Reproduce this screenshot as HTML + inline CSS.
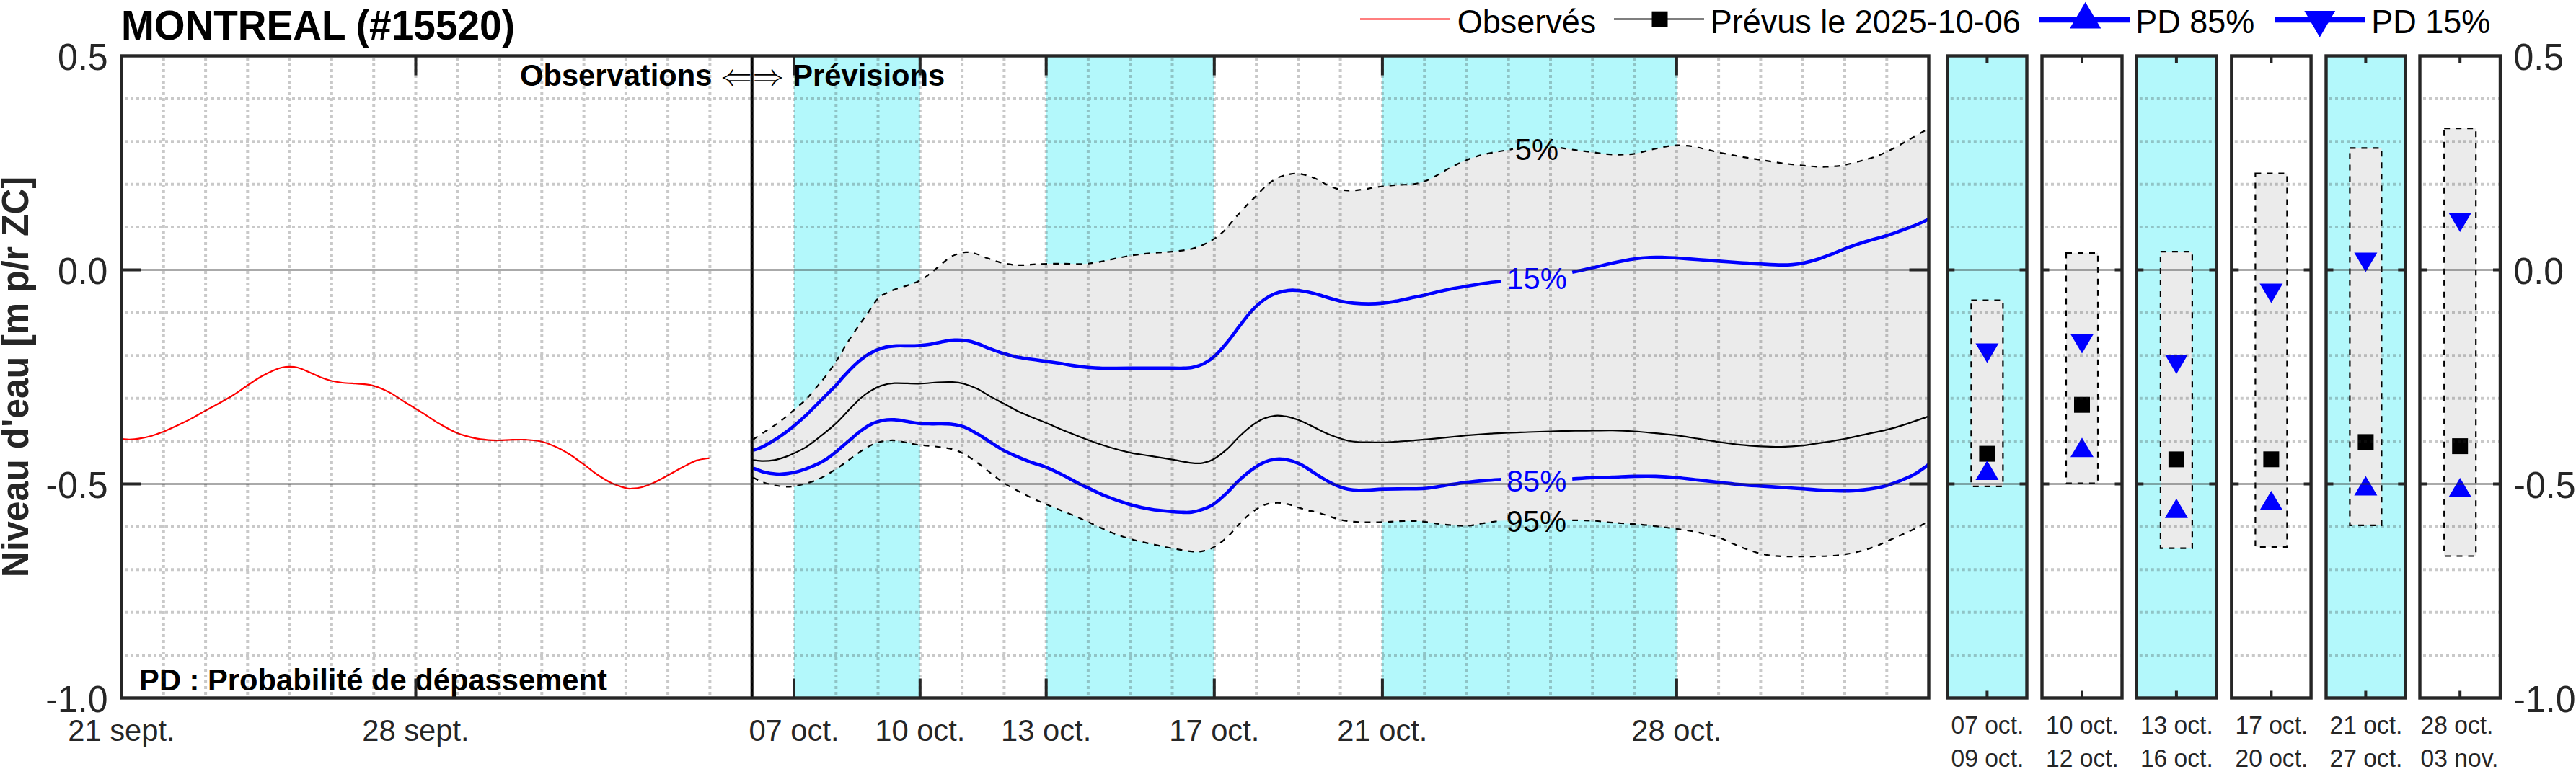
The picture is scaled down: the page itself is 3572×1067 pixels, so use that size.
<!DOCTYPE html><html><head><meta charset="utf-8"><title>MONTREAL (#15520)</title>
<style>html,body{margin:0;padding:0;background:#fff;width:3572px;height:1067px;overflow:hidden}svg{display:block}text{font-family:"Liberation Sans",Arial,Helvetica,sans-serif}.m{font-family:"Latin Modern Math","DejaVu Serif",serif}</style></head><body>
<svg width="3572" height="1067" viewBox="0 0 3572 1067">
<rect width="3572" height="1067" fill="#fff"/>
<rect x="1101" y="77.5" width="174.8" height="891" fill="#b3f8fb"/>
<rect x="1450.7" y="77.5" width="233.1" height="891" fill="#b3f8fb"/>
<rect x="1916.9" y="77.5" width="408" height="891" fill="#b3f8fb"/>
<path d="M1044,610 C1047.7,607.6 1059.7,599.6 1066,595.4 C1072.3,591.2 1075.9,589.3 1081.6,585 C1087.3,580.7 1094.2,574.6 1100.3,569.4 C1106.4,564.2 1112.5,559.4 1118,553.8 C1123.5,548.2 1129,541 1133.6,535.6 C1138.1,530.2 1141,527 1145.3,521.3 C1149.6,515.6 1154.6,508.9 1159.6,501.2 C1164.6,493.5 1170,483.4 1175.2,475.2 C1180.4,467 1186,458.7 1190.8,451.8 C1195.6,444.9 1199.4,439.9 1203.8,433.6 C1208.2,427.3 1213.5,418.4 1217.4,414.1 C1221.3,409.8 1223.5,409.6 1227.3,407.6 C1231.1,405.6 1235.1,403.8 1240.3,401.9 C1245.5,399.9 1252.7,398 1258.5,395.9 C1264.3,393.8 1270.6,391.8 1275.4,389.4 C1280.2,387 1283,384.6 1287.1,381.6 C1291.2,378.6 1295.3,375.1 1300.1,371.2 C1304.9,367.3 1311.4,361.2 1315.7,358.2 C1320,355.2 1322.2,354.4 1326.1,353 C1330,351.6 1334.8,350.1 1339.1,349.9 C1343.4,349.7 1347.3,350.4 1352.1,351.7 C1356.9,353 1362.1,355.7 1367.7,357.7 C1373.3,359.7 1379.8,362.3 1385.9,363.9 C1392,365.5 1398.5,366.6 1404.1,367.3 C1409.7,368 1413.7,367.9 1419.7,367.8 C1425.7,367.7 1431.8,366.8 1440,366.5 C1448.2,366.2 1459.8,365.8 1469,365.8 C1478.2,365.8 1488.5,366.3 1495,366.3 C1501.5,366.3 1502.8,366.3 1508,365.8 C1513.2,365.3 1519.7,364.4 1526.2,363.2 C1532.7,362 1540.2,360.1 1547,358.7 C1553.8,357.3 1560.8,355.9 1567.3,354.8 C1573.8,353.7 1579.4,352.9 1586,352.2 C1592.6,351.5 1600.3,350.9 1606.9,350.4 C1613.5,349.9 1618.2,349.9 1625.6,349.1 C1633,348.3 1643.8,347.4 1651.1,345.7 C1658.4,344 1663.9,341.6 1669.3,339.2 C1674.7,336.8 1678.8,334.6 1683.6,331.4 C1688.4,328.1 1692.9,324.7 1697.9,319.7 C1702.9,314.7 1708.3,307.4 1713.5,301.5 C1718.7,295.6 1724.3,289.6 1729.1,284.6 C1733.9,279.6 1737.3,276.4 1742.1,271.6 C1746.9,266.8 1752.5,260.2 1757.7,256 C1762.9,251.8 1768.1,248.5 1773.3,246.1 C1778.5,243.7 1784.4,242.6 1788.9,241.7 C1793.5,240.8 1796.3,240.5 1800.6,240.9 C1804.9,241.3 1810,242.7 1814.9,244.3 C1819.8,245.9 1826.1,248.5 1830,250.3 C1833.9,252.2 1834.2,253.5 1838.2,255.4 C1842.2,257.3 1848.6,260.4 1853.8,261.9 C1859,263.4 1863.8,264.3 1869.4,264.5 C1875,264.7 1882,263.8 1887.6,263.2 C1893.2,262.6 1898.2,261.4 1903.2,260.6 C1908.2,259.8 1911.9,259.1 1917.5,258.5 C1923.1,257.9 1929.8,257.2 1937,256.7 C1944.2,256.2 1954,256.3 1960.4,255.4 C1966.8,254.5 1970.3,253.4 1975.5,251.5 C1980.7,249.6 1986.4,246.5 1991.7,243.7 C1997,240.9 2002.1,237.4 2007.3,234.6 C2012.5,231.8 2018.1,229.1 2022.9,226.8 C2027.7,224.6 2030.7,223.1 2035.9,221.1 C2041.1,219.1 2047.6,216.8 2054.1,215.1 C2060.6,213.4 2068.7,211.9 2074.9,210.7 C2081.1,209.5 2087.5,208.8 2091.3,208.1 C2095.2,207.4 2091.4,207 2098,206.6 C2104.6,206.2 2120,205.7 2131,205.5 C2142,205.3 2155.2,204.8 2164,205.2 C2172.8,205.6 2176.7,207.1 2184.1,208.1 C2191.5,209.1 2201,210.2 2208.3,211.2 C2215.7,212.1 2221.8,213.2 2228.2,213.8 C2234.5,214.4 2240,214.7 2246.4,214.6 C2252.8,214.5 2259.5,214.4 2266.4,213.3 C2273.3,212.2 2280.9,209.7 2288,208.1 C2295.1,206.5 2302.6,204.8 2308.8,203.7 C2315,202.6 2319.1,201.7 2325.2,201.6 C2331.3,201.5 2338.4,201.9 2345.2,202.9 C2352,203.9 2359.6,205.9 2366,207.3 C2372.4,208.7 2375.9,209.8 2383.7,211.5 C2391.5,213.2 2403.3,215.5 2412.9,217.2 C2422.5,218.9 2432,220.4 2441.5,221.9 C2451,223.4 2460.3,225 2470.1,226.3 C2479.9,227.6 2492.2,228.9 2500.3,229.7 C2508.5,230.5 2513.7,231 2519,231.3 C2524.3,231.6 2527.7,231.6 2532,231.5 C2536.3,231.4 2540.7,231.1 2545,230.7 C2549.3,230.3 2552.4,230.1 2558,228.9 C2563.6,227.7 2572.3,225.4 2578.8,223.7 C2585.3,222 2590.8,220.7 2597,218.5 C2603.2,216.3 2609.5,213.7 2616,210.7 C2622.5,207.7 2630.1,203.6 2636,200.3 C2641.9,197.1 2646,194.4 2651.7,191.2 C2657.3,187.9 2666.1,183 2669.9,180.8 C2673.7,178.6 2673.7,178.6 2674.5,178.2 L2674.5,723 C2673.7,723.4 2672.9,723.9 2669.8,725.6 C2666.7,727.3 2661.2,730.7 2655.8,733.4 C2650.4,736.1 2643.7,738.9 2637.1,741.9 C2630.5,744.9 2622.7,748.4 2616.2,751.2 C2609.7,754.1 2605.2,756.5 2598.3,759 C2591.4,761.5 2581.7,764.3 2575,766 C2568.3,767.7 2564.1,768.2 2558.4,769.1 C2552.7,770 2547.2,770.6 2540.9,771.1 C2534.6,771.6 2527.4,771.7 2520.7,771.9 C2514,772.1 2507,772.2 2500.5,772.2 C2494,772.2 2487.6,772.3 2481.9,772.2 C2476.2,772.1 2471.5,772 2466.3,771.7 C2461.1,771.4 2456,771.1 2450.8,770.2 C2445.6,769.3 2440.5,768 2435.3,766.5 C2430.1,765 2425.5,763.4 2419.8,761.3 C2414.1,759.1 2407.2,756.2 2401.1,753.6 C2395,751 2389,747.8 2383.3,745.8 C2377.6,743.8 2372.6,743 2367,741.6 C2361.4,740.2 2356.9,739 2349.9,737.7 C2342.9,736.4 2332.8,735 2325,733.9 C2317.2,732.8 2310.8,732 2303.3,731.1 C2295.8,730.2 2286.2,728.9 2280,728.3 C2273.8,727.6 2273.7,727.7 2266.4,727.2 C2259.1,726.7 2245.7,725.9 2236,725.1 C2226.3,724.3 2217.6,723 2208.3,722.5 C2199,722 2193.1,722 2180.2,721.8 C2167.3,721.6 2147.5,721.4 2131,721.5 C2114.5,721.6 2094.2,721.6 2081.4,722.4 C2068.6,723.2 2062.1,725.2 2054.1,726.4 C2046.1,727.6 2042,729.4 2033.3,729.6 C2024.6,729.8 2011.7,728.7 2002.1,727.7 C1992.5,726.8 1982.9,724.7 1975.5,723.9 C1968.1,723.1 1964.2,722.9 1957.8,722.8 C1951.4,722.7 1943.7,723 1937,723.3 C1930.3,723.6 1924,724.2 1917.5,724.4 C1911,724.6 1904.7,724.7 1898,724.6 C1891.3,724.5 1883.8,724.5 1877.2,723.9 C1870.6,723.3 1865,722.7 1858.5,721.2 C1852,719.7 1844.6,716.7 1838.2,714.7 C1831.8,712.7 1823.9,710.3 1820,709.3 C1816.1,708.3 1818.1,709.5 1814.9,708.7 C1811.7,707.9 1805.8,705.9 1800.6,704.3 C1795.4,702.7 1789.1,700.2 1783.7,699.1 C1778.3,698 1773.3,697.5 1768.1,697.8 C1762.9,698.1 1757.9,698.6 1752.5,700.9 C1747.1,703.1 1741.2,707 1735.6,711.3 C1730,715.6 1724.3,721.2 1718.7,726.9 C1713.1,732.5 1707.7,739.9 1701.8,745.2 C1695.9,750.5 1689.2,755.6 1683.6,758.9 C1678,762.1 1673.2,763.7 1668,764.7 C1662.8,765.8 1659.5,765.9 1652.4,765.2 C1645.3,764.6 1634.9,762.5 1625.6,760.8 C1616.3,759.1 1606.1,757 1596.4,754.8 C1586.7,752.6 1576.8,750.6 1567.3,747.8 C1557.8,745 1549.1,742.1 1539.2,738.1 C1529.3,734.1 1517.5,728 1508,723.8 C1498.5,719.5 1491.6,716.6 1482,712.6 C1472.4,708.6 1459,703.3 1450.3,699.6 C1441.6,695.9 1436.8,693.8 1430,690.5 C1423.2,687.2 1415.6,683.4 1409.3,680 C1403,676.6 1398,674 1392.4,670.3 C1386.8,666.6 1381.3,662.3 1375.5,657.8 C1369.7,653.3 1363.4,647.9 1357.3,643.5 C1351.2,639.1 1344.7,634.5 1339.1,631.3 C1333.5,628 1329.1,625.8 1323.5,624 C1317.9,622.2 1311.8,621.6 1305.3,620.6 C1298.8,619.6 1291,619 1284.5,618.3 C1278,617.6 1272.4,617.2 1266.3,616.2 C1260.2,615.2 1253.3,613.2 1248.1,612.3 C1242.9,611.4 1240.3,610.7 1235.1,611 C1229.9,611.3 1222.6,612.4 1216.9,614.1 C1211.2,615.8 1206.4,618.5 1201.2,621.4 C1196,624.3 1190.8,628.1 1185.6,631.8 C1180.4,635.5 1175.2,639.8 1170,643.5 C1164.8,647.2 1160,650.4 1154.4,653.9 C1148.8,657.4 1142.3,661.5 1136.2,664.3 C1130.1,667.1 1124,669.1 1118,670.8 C1112,672.5 1105.5,674 1100.3,674.7 C1095.1,675.5 1092.1,675.7 1086.8,675.3 C1081.5,674.9 1073.8,673.3 1068.6,672.1 C1063.4,670.9 1059.7,669.8 1055.6,668.2 C1051.5,666.6 1045.9,663.5 1044,662.5 Z" fill="#ebebeb"/>
<path d="M170.5,609.2 C172,609.3 176,609.9 179.6,609.8 C183.2,609.7 187.2,609.6 192.3,608.7 C197.5,607.9 204.8,606.3 210.5,604.7 C216.2,603.1 220.7,601.2 226.5,598.9 C232.3,596.6 239,593.5 245.1,590.7 C251.2,587.9 256.8,585.3 263.3,581.9 C269.8,578.5 277.5,573.8 284.2,570.1 C290.9,566.4 296.9,563.3 303.4,559.7 C309.9,556.1 316.9,552.3 323.4,548.3 C329.8,544.3 335.7,539.8 342.1,535.5 C348.5,531.2 355.3,526.4 361.6,522.8 C367.9,519.2 375,515.8 379.8,513.7 C384.6,511.6 387.1,510.8 390.7,510 C394.3,509.2 397.6,508.8 401.3,508.8 C405,508.8 408,508.7 412.6,510 C417.2,511.3 423.5,514.1 429,516.4 C434.5,518.7 440.4,521.7 445.4,523.7 C450.4,525.7 454.1,527 459,528.2 C463.9,529.4 468.9,530.3 474.5,531 C480.1,531.7 487.6,531.9 492.7,532.2 C497.8,532.6 501.3,532.6 505.4,533.1 C509.5,533.6 513.3,534.1 517.3,535.1 C521.2,536.1 524.7,537.3 529.1,539.2 C533.5,541.1 538.2,543.2 543.7,546.4 C549.2,549.6 556.5,554.9 561.9,558.3 C567.3,561.7 571.6,564.1 576.2,566.9 C580.8,569.7 584,571.6 589.5,575.1 C595,578.6 601.5,583.5 609,587.8 C616.5,592.1 626.3,597.8 634.4,601.1 C642.5,604.5 650.6,606.3 657.8,607.9 C664.9,609.5 671.5,610.1 677.3,610.6 C683.1,611.1 687,611.1 692.5,611 C698,610.9 704.2,610.3 710.5,610.2 C716.8,610.1 723.2,609.8 730,610.2 C736.8,610.6 744.2,611 751.4,612.8 C758.5,614.6 766.4,618 772.9,621 C779.4,624 784.3,626.8 790.4,630.7 C796.5,634.6 803.4,639.9 809.6,644.4 C815.8,648.9 821.3,653.8 827.5,658 C833.7,662.2 840.3,666.5 847,669.7 C853.7,672.9 862.6,675.7 867.5,677.1 C872.4,678.5 872.6,678.1 876.3,677.9 C880,677.7 885,677.3 889.9,676 C894.8,674.7 899.6,673 905.5,670.3 C911.4,667.6 918.6,663.7 925.4,660 C932.2,656.3 939.7,651.8 946.5,648.3 C953.3,644.8 959.8,641 966,638.9 C972.2,636.8 980.7,636.1 983.6,635.6" fill="none" stroke="#ff0000" stroke-width="2.2" stroke-linejoin="round"/>
<path d="M1044,610 C1047.7,607.6 1059.7,599.6 1066,595.4 C1072.3,591.2 1075.9,589.3 1081.6,585 C1087.3,580.7 1094.2,574.6 1100.3,569.4 C1106.4,564.2 1112.5,559.4 1118,553.8 C1123.5,548.2 1129,541 1133.6,535.6 C1138.1,530.2 1141,527 1145.3,521.3 C1149.6,515.6 1154.6,508.9 1159.6,501.2 C1164.6,493.5 1170,483.4 1175.2,475.2 C1180.4,467 1186,458.7 1190.8,451.8 C1195.6,444.9 1199.4,439.9 1203.8,433.6 C1208.2,427.3 1213.5,418.4 1217.4,414.1 C1221.3,409.8 1223.5,409.6 1227.3,407.6 C1231.1,405.6 1235.1,403.8 1240.3,401.9 C1245.5,399.9 1252.7,398 1258.5,395.9 C1264.3,393.8 1270.6,391.8 1275.4,389.4 C1280.2,387 1283,384.6 1287.1,381.6 C1291.2,378.6 1295.3,375.1 1300.1,371.2 C1304.9,367.3 1311.4,361.2 1315.7,358.2 C1320,355.2 1322.2,354.4 1326.1,353 C1330,351.6 1334.8,350.1 1339.1,349.9 C1343.4,349.7 1347.3,350.4 1352.1,351.7 C1356.9,353 1362.1,355.7 1367.7,357.7 C1373.3,359.7 1379.8,362.3 1385.9,363.9 C1392,365.5 1398.5,366.6 1404.1,367.3 C1409.7,368 1413.7,367.9 1419.7,367.8 C1425.7,367.7 1431.8,366.8 1440,366.5 C1448.2,366.2 1459.8,365.8 1469,365.8 C1478.2,365.8 1488.5,366.3 1495,366.3 C1501.5,366.3 1502.8,366.3 1508,365.8 C1513.2,365.3 1519.7,364.4 1526.2,363.2 C1532.7,362 1540.2,360.1 1547,358.7 C1553.8,357.3 1560.8,355.9 1567.3,354.8 C1573.8,353.7 1579.4,352.9 1586,352.2 C1592.6,351.5 1600.3,350.9 1606.9,350.4 C1613.5,349.9 1618.2,349.9 1625.6,349.1 C1633,348.3 1643.8,347.4 1651.1,345.7 C1658.4,344 1663.9,341.6 1669.3,339.2 C1674.7,336.8 1678.8,334.6 1683.6,331.4 C1688.4,328.1 1692.9,324.7 1697.9,319.7 C1702.9,314.7 1708.3,307.4 1713.5,301.5 C1718.7,295.6 1724.3,289.6 1729.1,284.6 C1733.9,279.6 1737.3,276.4 1742.1,271.6 C1746.9,266.8 1752.5,260.2 1757.7,256 C1762.9,251.8 1768.1,248.5 1773.3,246.1 C1778.5,243.7 1784.4,242.6 1788.9,241.7 C1793.5,240.8 1796.3,240.5 1800.6,240.9 C1804.9,241.3 1810,242.7 1814.9,244.3 C1819.8,245.9 1826.1,248.5 1830,250.3 C1833.9,252.2 1834.2,253.5 1838.2,255.4 C1842.2,257.3 1848.6,260.4 1853.8,261.9 C1859,263.4 1863.8,264.3 1869.4,264.5 C1875,264.7 1882,263.8 1887.6,263.2 C1893.2,262.6 1898.2,261.4 1903.2,260.6 C1908.2,259.8 1911.9,259.1 1917.5,258.5 C1923.1,257.9 1929.8,257.2 1937,256.7 C1944.2,256.2 1954,256.3 1960.4,255.4 C1966.8,254.5 1970.3,253.4 1975.5,251.5 C1980.7,249.6 1986.4,246.5 1991.7,243.7 C1997,240.9 2002.1,237.4 2007.3,234.6 C2012.5,231.8 2018.1,229.1 2022.9,226.8 C2027.7,224.6 2030.7,223.1 2035.9,221.1 C2041.1,219.1 2047.6,216.8 2054.1,215.1 C2060.6,213.4 2068.7,211.9 2074.9,210.7 C2081.1,209.5 2087.5,208.8 2091.3,208.1 C2095.2,207.4 2096.9,206.8 2098,206.6" fill="none" stroke="#000" stroke-width="2.2" stroke-dasharray="8 8"/>
<path d="M2164,205.2 C2167.3,205.7 2176.7,207.1 2184.1,208.1 C2191.5,209.1 2201,210.2 2208.3,211.2 C2215.7,212.1 2221.8,213.2 2228.2,213.8 C2234.5,214.4 2240,214.7 2246.4,214.6 C2252.8,214.5 2259.5,214.4 2266.4,213.3 C2273.3,212.2 2280.9,209.7 2288,208.1 C2295.1,206.5 2302.6,204.8 2308.8,203.7 C2315,202.6 2319.1,201.7 2325.2,201.6 C2331.3,201.5 2338.4,201.9 2345.2,202.9 C2352,203.9 2359.6,205.9 2366,207.3 C2372.4,208.7 2375.9,209.8 2383.7,211.5 C2391.5,213.2 2403.3,215.5 2412.9,217.2 C2422.5,218.9 2432,220.4 2441.5,221.9 C2451,223.4 2460.3,225 2470.1,226.3 C2479.9,227.6 2492.2,228.9 2500.3,229.7 C2508.5,230.5 2513.7,231 2519,231.3 C2524.3,231.6 2527.7,231.6 2532,231.5 C2536.3,231.4 2540.7,231.1 2545,230.7 C2549.3,230.3 2552.4,230.1 2558,228.9 C2563.6,227.7 2572.3,225.4 2578.8,223.7 C2585.3,222 2590.8,220.7 2597,218.5 C2603.2,216.3 2609.5,213.7 2616,210.7 C2622.5,207.7 2630.1,203.6 2636,200.3 C2641.9,197.1 2646,194.4 2651.7,191.2 C2657.3,187.9 2666.1,183 2669.9,180.8 C2673.7,178.6 2673.7,178.6 2674.5,178.2" fill="none" stroke="#000" stroke-width="2.2" stroke-dasharray="8 8"/>
<path d="M1044,662.5 C1045.9,663.5 1051.5,666.6 1055.6,668.2 C1059.7,669.8 1063.4,670.9 1068.6,672.1 C1073.8,673.3 1081.5,674.9 1086.8,675.3 C1092.1,675.7 1095.1,675.5 1100.3,674.7 C1105.5,674 1112,672.5 1118,670.8 C1124,669.1 1130.1,667.1 1136.2,664.3 C1142.3,661.5 1148.8,657.4 1154.4,653.9 C1160,650.4 1164.8,647.2 1170,643.5 C1175.2,639.8 1180.4,635.5 1185.6,631.8 C1190.8,628.1 1196,624.3 1201.2,621.4 C1206.4,618.5 1211.2,615.8 1216.9,614.1 C1222.6,612.4 1229.9,611.3 1235.1,611 C1240.3,610.7 1242.9,611.4 1248.1,612.3 C1253.3,613.2 1260.2,615.2 1266.3,616.2 C1272.4,617.2 1278,617.6 1284.5,618.3 C1291,619 1298.8,619.6 1305.3,620.6 C1311.8,621.6 1317.9,622.2 1323.5,624 C1329.1,625.8 1333.5,628 1339.1,631.3 C1344.7,634.5 1351.2,639.1 1357.3,643.5 C1363.4,647.9 1369.7,653.3 1375.5,657.8 C1381.3,662.3 1386.8,666.6 1392.4,670.3 C1398,674 1403,676.6 1409.3,680 C1415.6,683.4 1423.2,687.2 1430,690.5 C1436.8,693.8 1441.6,695.9 1450.3,699.6 C1459,703.3 1472.4,708.6 1482,712.6 C1491.6,716.6 1498.5,719.5 1508,723.8 C1517.5,728 1529.3,734.1 1539.2,738.1 C1549.1,742.1 1557.8,745 1567.3,747.8 C1576.8,750.6 1586.7,752.6 1596.4,754.8 C1606.1,757 1616.3,759.1 1625.6,760.8 C1634.9,762.5 1645.3,764.6 1652.4,765.2 C1659.5,765.9 1662.8,765.8 1668,764.7 C1673.2,763.7 1678,762.1 1683.6,758.9 C1689.2,755.6 1695.9,750.5 1701.8,745.2 C1707.7,739.9 1713.1,732.5 1718.7,726.9 C1724.3,721.2 1730,715.6 1735.6,711.3 C1741.2,707 1747.1,703.1 1752.5,700.9 C1757.9,698.6 1762.9,698.1 1768.1,697.8 C1773.3,697.5 1778.3,698 1783.7,699.1 C1789.1,700.2 1795.4,702.7 1800.6,704.3 C1805.8,705.9 1811.7,707.9 1814.9,708.7 C1818.1,709.5 1816.1,708.3 1820,709.3 C1823.9,710.3 1831.8,712.7 1838.2,714.7 C1844.6,716.7 1852,719.7 1858.5,721.2 C1865,722.7 1870.6,723.3 1877.2,723.9 C1883.8,724.5 1891.3,724.5 1898,724.6 C1904.7,724.7 1911,724.6 1917.5,724.4 C1924,724.2 1930.3,723.6 1937,723.3 C1943.7,723 1951.4,722.7 1957.8,722.8 C1964.2,722.9 1968.1,723.1 1975.5,723.9 C1982.9,724.7 1992.5,726.8 2002.1,727.7 C2011.7,728.7 2024.6,729.8 2033.3,729.6 C2042,729.4 2046.1,727.6 2054.1,726.4 C2062.1,725.2 2076.8,723.1 2081.4,722.4" fill="none" stroke="#000" stroke-width="2.2" stroke-dasharray="8 8"/>
<path d="M2180.2,721.8 C2184.9,721.9 2199,722 2208.3,722.5 C2217.6,723 2226.3,724.3 2236,725.1 C2245.7,725.9 2259.1,726.7 2266.4,727.2 C2273.7,727.7 2273.8,727.6 2280,728.3 C2286.2,728.9 2295.8,730.2 2303.3,731.1 C2310.8,732 2317.2,732.8 2325,733.9 C2332.8,735 2342.9,736.4 2349.9,737.7 C2356.9,739 2361.4,740.2 2367,741.6 C2372.6,743 2377.6,743.8 2383.3,745.8 C2389,747.8 2395,751 2401.1,753.6 C2407.2,756.2 2414.1,759.1 2419.8,761.3 C2425.5,763.4 2430.1,765 2435.3,766.5 C2440.5,768 2445.6,769.3 2450.8,770.2 C2456,771.1 2461.1,771.4 2466.3,771.7 C2471.5,772 2476.2,772.1 2481.9,772.2 C2487.6,772.3 2494,772.2 2500.5,772.2 C2507,772.2 2514,772.1 2520.7,771.9 C2527.4,771.7 2534.6,771.6 2540.9,771.1 C2547.2,770.6 2552.7,770 2558.4,769.1 C2564.1,768.2 2568.3,767.7 2575,766 C2581.7,764.3 2591.4,761.5 2598.3,759 C2605.2,756.5 2609.7,754.1 2616.2,751.2 C2622.7,748.4 2630.5,744.9 2637.1,741.9 C2643.7,738.9 2650.4,736.1 2655.8,733.4 C2661.2,730.7 2666.7,727.3 2669.8,725.6 C2672.9,723.9 2673.7,723.4 2674.5,723" fill="none" stroke="#000" stroke-width="2.2" stroke-dasharray="8 8"/>
<path d="M1044,638.3 C1046.4,638.5 1053.2,639.6 1058.2,639.6 C1063.2,639.6 1068.6,639.2 1073.8,638.3 C1079,637.3 1085,635.4 1089.4,633.9 C1093.8,632.4 1095.5,631.5 1100.3,629.2 C1105.1,626.9 1111.6,624.2 1118,620.1 C1124.4,616 1131.9,610 1138.8,604.5 C1145.7,599 1153.1,593.2 1159.6,587.1 C1166.1,581 1172.2,573.9 1177.8,568.1 C1183.4,562.3 1188.6,556.7 1193.4,552.5 C1198.2,548.3 1201.6,545.8 1206.4,542.9 C1211.2,540 1216.4,537 1222.1,535.1 C1227.8,533.2 1231.6,532.2 1240.3,531.7 C1249,531.2 1264.1,532.5 1274.1,532.3 C1284.1,532.1 1292.3,530.9 1300.1,530.5 C1307.9,530.1 1314.8,529.9 1320.9,530.2 C1327,530.5 1330.9,531 1336.5,532.5 C1342.1,534 1348.6,536.4 1354.7,539.3 C1360.8,542.2 1366.6,546.4 1372.9,549.9 C1379.2,553.4 1385.9,556.8 1392.4,560.3 C1398.9,563.8 1405.6,567.7 1411.9,570.7 C1418.2,573.7 1423.6,575.8 1430,578.5 C1436.4,581.2 1441.6,583.2 1450.3,586.8 C1459,590.4 1472.4,596.2 1482,600.1 C1491.6,604 1498.5,606.8 1508,610.3 C1517.5,613.8 1529.3,617.8 1539.2,620.8 C1549.1,623.8 1557.8,626.1 1567.3,628.1 C1576.8,630.1 1586.7,631.2 1596.4,632.8 C1606.1,634.4 1616.3,636.1 1625.6,637.7 C1634.9,639.3 1645.3,641.6 1652.4,642.4 C1659.5,643.2 1662.8,643.3 1668,642.4 C1673.2,641.5 1678,640 1683.6,636.7 C1689.2,633.5 1695.9,628.1 1701.8,622.9 C1707.7,617.7 1713.1,610.8 1718.7,605.5 C1724.3,600.2 1730,595 1735.6,590.9 C1741.2,586.8 1747.1,583.1 1752.5,580.8 C1757.9,578.4 1762.9,577.3 1768.1,576.8 C1773.3,576.3 1778.3,576.9 1783.7,577.9 C1789.1,578.9 1795.2,580.9 1800.4,582.8 C1805.6,584.7 1809.2,586.5 1814.6,589.1 C1820,591.7 1827.3,595.6 1832.8,598.2 C1838.3,600.8 1843.2,602.9 1847.4,604.6 C1851.7,606.3 1854.7,607.1 1858.3,608.2 C1861.9,609.4 1865,610.6 1869.2,611.5 C1873.5,612.4 1878.7,612.9 1883.8,613.3 C1888.9,613.7 1894.4,613.6 1900,613.7 C1905.6,613.8 1909.2,614.1 1917.5,613.8 C1925.8,613.5 1940.3,612.6 1950,612 C1959.7,611.4 1966.8,610.7 1975.5,609.9 C1984.2,609.1 1992.5,608.2 2002.1,607.3 C2011.7,606.3 2022.5,605.2 2033.3,604.2 C2044.1,603.2 2057.4,602.2 2067.1,601.6 C2076.8,601 2082.6,600.6 2091.3,600.3 C2100,599.9 2109.3,599.8 2119.1,599.5 C2128.9,599.2 2139.5,598.8 2150.3,598.5 C2161.1,598.2 2174.2,597.9 2184.1,597.7 C2194,597.5 2201.3,597.6 2210,597.5 C2218.7,597.4 2226.6,597 2236,597.2 C2245.4,597.4 2256.4,597.9 2266.4,598.5 C2276.4,599.1 2286,600.1 2295.8,601.1 C2305.6,602.1 2315.2,602.9 2325.2,604.2 C2335.2,605.5 2345.8,607.4 2355.6,608.9 C2365.3,610.4 2374.1,611.9 2383.7,613.3 C2393.2,614.7 2403.3,616.2 2412.9,617.2 C2422.5,618.2 2432,618.8 2441.5,619.3 C2451,619.8 2460.3,620.3 2470.1,620.1 C2479.9,619.9 2490.3,619.2 2500.4,618.1 C2510.5,617 2520.8,615.1 2530.5,613.6 C2540.2,612.1 2548.5,610.8 2558.3,608.9 C2568.1,607 2579.6,604.2 2589.2,602.1 C2598.8,600 2607.3,598.6 2616,596.4 C2624.7,594.2 2631.4,592.2 2641.2,589.1 C2650.9,586 2668.9,579.5 2674.5,577.6" fill="none" stroke="#000" stroke-width="2.2" stroke-linejoin="round"/>
<path d="M1044,624.9 C1045.9,624.2 1051.1,623 1055.6,620.9 C1060.1,618.8 1066,615.5 1071.2,612.3 C1076.4,609.1 1082,605.4 1086.8,601.9 C1091.6,598.4 1095.1,595.8 1100.3,591.5 C1105.5,587.2 1112.5,581.1 1118,575.9 C1123.5,570.7 1128.4,565.5 1133.6,560.3 C1138.8,555.1 1144.9,549 1149.2,544.7 C1153.5,540.4 1156.1,538.1 1159.6,534.3 C1163.1,530.5 1165.2,527.2 1170,522.1 C1174.8,517 1182.1,509.1 1188.2,503.8 C1194.3,498.5 1200.3,493.9 1206.4,490.3 C1212.5,486.8 1218.6,484.2 1224.7,482.5 C1230.8,480.8 1236.8,480.3 1242.9,479.9 C1249,479.5 1255.7,480 1261.1,479.9 C1266.5,479.8 1270.6,479.8 1275.4,479.4 C1280.2,479 1284.3,478.7 1289.7,477.8 C1295.1,476.9 1302.3,474.9 1307.9,473.9 C1313.5,472.9 1318.3,472.1 1323.5,471.9 C1328.7,471.7 1333.9,471.8 1339.1,472.6 C1344.3,473.4 1349.1,474.6 1354.7,476.5 C1360.3,478.4 1366.8,481.5 1372.9,483.8 C1379,486.1 1385,488.4 1391.1,490.3 C1397.2,492.2 1402.8,493.9 1409.3,495.3 C1415.8,496.7 1423.2,497.5 1430,498.5 C1436.8,499.5 1443.8,500.5 1450.3,501.4 C1456.8,502.3 1462.8,503.1 1469,504 C1475.2,504.9 1480.7,506.2 1487.2,507.1 C1493.7,508.1 1501.1,509.1 1508,509.7 C1514.9,510.3 1518.9,510.8 1528.8,511 C1538.7,511.2 1551.2,510.8 1567.3,510.8 C1583.4,510.8 1613.8,510.8 1625.6,510.8 C1637.4,510.8 1633.4,511.2 1638.1,511 C1642.8,510.8 1648.5,510.8 1653.7,509.7 C1658.9,508.6 1664.1,507.2 1669.3,504.5 C1674.5,501.8 1679.3,498.8 1684.9,493.6 C1690.5,488.4 1697.5,480.2 1703.1,473.3 C1708.7,466.4 1713.3,459.5 1718.7,452.5 C1724.1,445.5 1730,437.3 1735.6,431.2 C1741.2,425.1 1747.1,420 1752.5,416 C1757.9,412 1762.5,409.6 1768.1,407.4 C1773.7,405.2 1781.1,403.7 1786.3,403 C1791.5,402.3 1794.5,402.6 1799.3,403 C1804.1,403.4 1809.8,404.5 1814.9,405.6 C1820,406.7 1826.1,408.4 1830,409.5 C1833.9,410.6 1833.5,410.6 1838.2,412 C1843,413.4 1852,416.3 1858.5,417.7 C1865,419.1 1870.6,420 1877.2,420.6 C1883.8,421.2 1891.3,421.6 1898,421.6 C1904.7,421.6 1911,421.2 1917.5,420.6 C1924,420 1930.7,418.8 1937,417.7 C1943.3,416.6 1948.8,415.2 1955.2,413.8 C1961.6,412.4 1967.7,411.2 1975.5,409.4 C1983.3,407.6 1992.5,404.9 2002.1,402.9 C2011.7,400.9 2023.8,398.8 2033.3,397.2 C2042.8,395.6 2051.3,394.1 2059.3,393 C2067.3,391.9 2077.7,390.8 2081.4,390.4" fill="none" stroke="#0000ff" stroke-width="4.6" stroke-linejoin="round"/>
<path d="M2180.2,377.7 C2184.9,376.7 2199,373.7 2208.3,371.6 C2217.6,369.5 2226.3,367.1 2236,365 C2245.7,362.9 2257.7,360.6 2266.4,359.3 C2275.1,358 2280.9,357.6 2288,357.2 C2295.1,356.8 2302.6,357.1 2308.8,357.2 C2315,357.3 2317.4,357.5 2325.2,358 C2333,358.5 2345.8,359.6 2355.6,360.3 C2365.3,361 2374.1,361.7 2383.7,362.4 C2393.2,363.1 2403.3,363.9 2412.9,364.5 C2422.5,365.1 2432,365.8 2441.5,366.3 C2451,366.8 2462.7,367.5 2470.1,367.6 C2477.5,367.7 2480.6,367.5 2485.7,367.1 C2490.8,366.7 2494.4,366.3 2500.5,365 C2506.6,363.7 2515,361.6 2522.1,359.3 C2529.2,357.1 2536.9,353.9 2542.9,351.5 C2548.9,349.1 2551.5,347.6 2558.3,345.1 C2565.2,342.6 2574.4,339.3 2584,336.3 C2593.6,333.3 2607.3,329.7 2616,327 C2624.7,324.3 2629.2,322.5 2636,320 C2642.8,317.5 2650.5,314.8 2656.9,312.1 C2663.3,309.4 2671.6,305.4 2674.5,304" fill="none" stroke="#0000ff" stroke-width="4.6" stroke-linejoin="round"/>
<path d="M1044,649.3 C1046.4,650.2 1052.8,653.3 1058.2,654.7 C1063.6,656.1 1070.8,657.4 1076.4,657.8 C1082,658.2 1086.8,657.8 1092,657.1 C1097.2,656.5 1102,655.5 1107.6,653.9 C1113.2,652.3 1119.7,650 1125.8,647.4 C1131.9,644.8 1138.4,641.8 1144,638.3 C1149.6,634.8 1154,631.1 1159.6,626.6 C1165.2,622.1 1172.2,615.8 1177.8,611 C1183.4,606.2 1188.2,601.8 1193.4,598 C1198.6,594.2 1203.8,590.6 1209,588.1 C1214.2,585.6 1219.5,584.2 1224.7,583.2 C1229.9,582.2 1234.7,582.1 1240.3,582.4 C1245.9,582.7 1252.7,584.1 1258.5,585 C1264.3,585.9 1269.8,587.1 1275.4,587.6 C1281,588.1 1286.5,588 1292.3,588.1 C1298.1,588.2 1305.3,587.9 1310.5,588.1 C1315.7,588.3 1318.7,588.3 1323.5,589.2 C1328.3,590.1 1333.5,591 1339.1,593.3 C1344.7,595.6 1351.2,599.6 1357.3,603.2 C1363.4,606.8 1369.7,611.2 1375.5,614.9 C1381.3,618.6 1386.8,622.3 1392.4,625.3 C1398,628.3 1403,630.4 1409.3,633.1 C1415.6,635.8 1423.2,639 1430,641.5 C1436.8,644 1443.4,645.4 1450.3,648.1 C1457.2,650.9 1464.1,654.3 1471.6,658 C1479,661.7 1488.9,667.4 1495,670.5 C1501.1,673.6 1501.5,673.7 1508,676.7 C1514.5,679.7 1524.1,684.8 1534,688.7 C1543.9,692.6 1556.9,697.2 1567.3,700.2 C1577.7,703.2 1586.7,705.1 1596.4,706.7 C1606.1,708.3 1618.6,709.3 1625.6,710 C1632.5,710.7 1633.6,710.7 1638.1,710.8 C1642.6,710.9 1647.4,711.3 1652.4,710.6 C1657.4,709.9 1662.8,708.6 1668,706.7 C1673.2,704.8 1678,703 1683.6,699.1 C1689.2,695.2 1696.4,688.4 1701.8,683.3 C1707.2,678.2 1710.7,673.5 1716.1,668.4 C1721.5,663.3 1728.2,657.3 1734.3,652.8 C1740.4,648.3 1746.9,644.2 1752.5,641.6 C1758.1,639 1762.9,637.9 1768.1,637.2 C1773.3,636.6 1778.3,636.8 1783.7,637.7 C1789.1,638.6 1795.2,640.6 1800.4,642.8 C1805.6,645 1809.2,647.6 1814.6,651 C1820,654.4 1827.3,659.6 1832.8,662.9 C1838.3,666.2 1843.2,668.9 1847.4,671 C1851.7,673.1 1854.7,674.3 1858.3,675.6 C1861.9,676.9 1865,677.9 1869.2,678.7 C1873.5,679.5 1878.7,680 1883.8,680.2 C1888.9,680.4 1894.4,680.1 1900,679.8 C1905.6,679.5 1909.2,678.9 1917.5,678.6 C1925.8,678.4 1940.3,678.4 1950,678.3 C1959.7,678.2 1966.8,678.5 1975.5,677.8 C1984.2,677.1 1992.5,675.3 2002.1,673.9 C2011.7,672.5 2023.8,670.4 2033.3,669.2 C2042.8,668 2051.3,667.2 2059.3,666.6 C2067.3,666 2077.7,665.5 2081.4,665.3" fill="none" stroke="#0000ff" stroke-width="4.6" stroke-linejoin="round"/>
<path d="M2180.2,664.6 C2184.9,664.3 2199,663.1 2208.3,662.7 C2217.6,662.3 2226.3,662.3 2236,662 C2245.7,661.7 2256.4,661.1 2266.4,660.9 C2276.4,660.7 2286,660.6 2295.8,660.9 C2305.6,661.2 2315.2,661.8 2325.2,662.7 C2335.2,663.6 2345.8,665 2355.6,666.1 C2365.3,667.2 2374.1,668.2 2383.7,669.2 C2393.2,670.2 2403.3,671.5 2412.9,672.4 C2422.5,673.3 2432,673.8 2441.5,674.4 C2451,675 2460.3,675.6 2470.1,676.3 C2479.9,676.9 2490.4,677.6 2500.4,678.3 C2510.4,679 2520.4,679.8 2530,680.3 C2539.6,680.8 2549,681.3 2558,681.2 C2567,681.1 2576.6,680.3 2584,679.6 C2591.4,678.9 2596.9,678 2602.2,677 C2607.5,676 2610.4,675.4 2616,673.7 C2621.6,672 2629.6,669.2 2636,666.6 C2642.4,664 2647.9,662 2654.3,658.3 C2660.7,654.6 2671.1,646.8 2674.5,644.5" fill="none" stroke="#0000ff" stroke-width="4.6" stroke-linejoin="round"/>
<path d="M1042.7,77.5V968.5" stroke="#000" stroke-width="4"/>
<text transform="translate(2100.7,221.7) scale(1,1.040)" font-size="41.70" fill="#000">5%</text>
<text transform="translate(2089.4,401.1) scale(1,1.040)" font-size="41.70" fill="#0000ff">15%</text>
<text transform="translate(2088.9,682.3) scale(1,1.040)" font-size="41.70" fill="#0000ff">85%</text>
<text transform="translate(2088.6,737.8) scale(1,1.040)" font-size="41.70" fill="#000">95%</text>
<text transform="translate(721.0,118.9) scale(1,1.040)" font-size="41.70" font-weight="bold" fill="#000">Observations</text>
<text class="m" x="999" y="119" font-size="44" fill="#000">&#x21D0;</text>
<text class="m" x="1043.5" y="119" font-size="44" fill="#000">&#x21D2;</text>
<text transform="translate(1099.3,118.9) scale(1,1.040)" font-size="41.70" font-weight="bold" fill="#000">Prévisions</text>
<text transform="translate(193.1,957.9) scale(1,1.040)" font-size="41.70" font-weight="bold" fill="#000">PD : Probabilité de dépassement</text>
<path d="M226.8,80V968.5M285.1,80V968.5M343.3,80V968.5M401.6,80V968.5M459.9,80V968.5M518.2,80V968.5M576.5,80V968.5M634.7,80V968.5M693,80V968.5M751.3,80V968.5M809.6,80V968.5M867.9,80V968.5M926.1,80V968.5M984.4,80V968.5M1042.7,80V968.5M1101,80V968.5M1159.3,80V968.5M1217.5,80V968.5M1275.8,80V968.5M1334.1,80V968.5M1392.4,80V968.5M1450.7,80V968.5M1508.9,80V968.5M1567.2,80V968.5M1625.5,80V968.5M1683.8,80V968.5M1742.1,80V968.5M1800.3,80V968.5M1858.6,80V968.5M1916.9,80V968.5M1975.2,80V968.5M2033.5,80V968.5M2091.7,80V968.5M2150,80V968.5M2208.3,80V968.5M2266.6,80V968.5M2324.9,80V968.5M2383.1,80V968.5M2441.4,80V968.5M2499.7,80V968.5M2558,80V968.5M2616.3,80V968.5M173,136.9H2674.5M173,196.3H2674.5M173,255.7H2674.5M173,315.1H2674.5M173,433.9H2674.5M173,493.3H2674.5M173,552.7H2674.5M173,612.1H2674.5M173,730.9H2674.5M173,790.3H2674.5M173,849.7H2674.5M173,909.1H2674.5" stroke="rgba(38,38,38,0.25)" stroke-width="4" stroke-dasharray="4 4" fill="none"/>
<path d="M168.5,374.5H2674.5 M168.5,671.5H2674.5" stroke="rgba(38,38,38,0.78)" stroke-width="2" fill="none"/>
<path d="M576.5,968.5v-27 M576.5,77.5v27M1101,968.5v-27 M1101,77.5v27M1275.8,968.5v-27 M1275.8,77.5v27M1450.7,968.5v-27 M1450.7,77.5v27M1683.8,968.5v-27 M1683.8,77.5v27M1916.9,968.5v-27 M1916.9,77.5v27M2324.9,968.5v-27 M2324.9,77.5v27M168.5,374.5h27 M2674.5,374.5h-27M168.5,671.5h27 M2674.5,671.5h-27" stroke="#262626" stroke-width="4" fill="none"/>
<rect x="168.5" y="77.5" width="2506" height="891" fill="none" stroke="#262626" stroke-width="4.4"/>
<text transform="translate(167.9,54.9) scale(1,1.040)" font-size="55.00" font-weight="bold" fill="#000">MONTREAL (#15520)</text>
<text transform="translate(80.1,96.8) scale(1,1.040)" font-size="50.00" fill="#262626">0.5</text>
<text transform="translate(3485.5,96.8) scale(1,1.040)" font-size="50.00" fill="#262626">0.5</text>
<text transform="translate(79.9,393.8) scale(1,1.040)" font-size="50.00" fill="#262626">0.0</text>
<text transform="translate(3485.5,393.8) scale(1,1.040)" font-size="50.00" fill="#262626">0.0</text>
<text transform="translate(63.4,690.8) scale(1,1.040)" font-size="50.00" fill="#262626">-0.5</text>
<text transform="translate(3485.3,690.8) scale(1,1.040)" font-size="50.00" fill="#262626">-0.5</text>
<text transform="translate(63.3,987.8) scale(1,1.040)" font-size="50.00" fill="#262626">-1.0</text>
<text transform="translate(3485.3,987.8) scale(1,1.040)" font-size="50.00" fill="#262626">-1.0</text>
<text transform="translate(94.3,1027.8) scale(1,1.040)" font-size="41.70" fill="#262626">21 sept.</text>
<text transform="translate(502.3,1027.8) scale(1,1.040)" font-size="41.70" fill="#262626">28 sept.</text>
<text transform="translate(1038.4,1027.8) scale(1,1.040)" font-size="41.70" fill="#262626">07 oct.</text>
<text transform="translate(1213.2,1027.8) scale(1,1.040)" font-size="41.70" fill="#262626">10 oct.</text>
<text transform="translate(1388.1,1027.8) scale(1,1.040)" font-size="41.70" fill="#262626">13 oct.</text>
<text transform="translate(1621.2,1027.8) scale(1,1.040)" font-size="41.70" fill="#262626">17 oct.</text>
<text transform="translate(1854.3,1027.8) scale(1,1.040)" font-size="41.70" fill="#262626">21 oct.</text>
<text transform="translate(2262.3,1027.8) scale(1,1.040)" font-size="41.70" fill="#262626">28 oct.</text>

<text transform="translate(39,801.1) rotate(-90) scale(1,1.040)" font-size="50" font-weight="bold" fill="#262626">Niveau d&#39;eau [m p/r ZC]</text>
<path d="M1886,26.6H2011" stroke="#ff0000" stroke-width="2"/>
<text transform="translate(2020.7,46.1) scale(1,1.040)" font-size="45.00" fill="#000">Observés</text>
<path d="M2238,26.6H2363" stroke="#000" stroke-width="2"/>
<rect x="2290.5" y="15.7" width="22" height="22" fill="#000"/>
<text transform="translate(2371.7,46.1) scale(1,1.040)" font-size="45.00" fill="#000">Prévus le 2025-10-06</text>
<path d="M2828,27.2H2953.2" stroke="#0000ff" stroke-width="8"/>
<path d="M2870,39.6 L2891.7,2.7 L2913.3,39.6Z" fill="#0000ff"/>
<text transform="translate(2961.3,46.1) scale(1,1.040)" font-size="45.00" fill="#000">PD 85%</text>
<path d="M3154.3,27.2H3279.5" stroke="#0000ff" stroke-width="8"/>
<path d="M3195.3,14.9 L3238.2,14.9 L3216.7,51.8Z" fill="#0000ff"/>
<text transform="translate(3288.3,46.1) scale(1,1.040)" font-size="45.00" fill="#000">PD 15%</text>
<rect x="2700.3" y="77.5" width="110.2" height="891" fill="#b3f8fb"/>
<rect x="2733.4" y="416.5" width="44" height="258.4" fill="#ebebeb" stroke="#000" stroke-width="2.2" stroke-dasharray="8 8"/>
<rect x="2744.4" y="618.6" width="22" height="22" fill="#000"/>
<path d="M2739.4,666 L2755.4,639 L2771.4,666Z" fill="#0000ff"/>
<path d="M2739.4,476.5 L2771.4,476.5 L2755.4,503.5Z" fill="#0000ff"/>
<path d="M2704.8,136.9H2808.5M2704.8,196.3H2808.5M2704.8,255.7H2808.5M2704.8,315.1H2808.5M2704.8,433.9H2808.5M2704.8,493.3H2808.5M2704.8,552.7H2808.5M2704.8,612.1H2808.5M2704.8,730.9H2808.5M2704.8,790.3H2808.5M2704.8,849.7H2808.5M2704.8,909.1H2808.5" stroke="rgba(38,38,38,0.25)" stroke-width="4" stroke-dasharray="4 4" fill="none"/>
<path d="M2700.3,374.5H2810.5 M2700.3,671.5H2810.5" stroke="rgba(38,38,38,0.78)" stroke-width="2" fill="none"/>
<path d="M2755.4,968.5v-10 M2755.4,77.5v10M2700.3,374.5h10 M2810.5,374.5h-10M2700.3,671.5h10 M2810.5,671.5h-10" stroke="#262626" stroke-width="4" fill="none"/>
<rect x="2700.3" y="77.5" width="110.2" height="891" fill="none" stroke="#262626" stroke-width="4.4"/>
<text transform="translate(2705.5,1017.7) scale(1,1.040)" font-size="33.60" fill="#262626">07 oct.</text>
<text transform="translate(2705.5,1063.9) scale(1,1.040)" font-size="33.60" fill="#262626">09 oct.</text>
<rect x="2865" y="350.8" width="44" height="319.9" fill="#ebebeb" stroke="#000" stroke-width="2.2" stroke-dasharray="8 8"/>
<rect x="2876" y="550.7" width="22" height="22" fill="#000"/>
<path d="M2871,634.3 L2887,607.3 L2903,634.3Z" fill="#0000ff"/>
<path d="M2871,463.5 L2903,463.5 L2887,490.5Z" fill="#0000ff"/>
<path d="M2836,136.9H2940.5M2836,196.3H2940.5M2836,255.7H2940.5M2836,315.1H2940.5M2836,433.9H2940.5M2836,493.3H2940.5M2836,552.7H2940.5M2836,612.1H2940.5M2836,730.9H2940.5M2836,790.3H2940.5M2836,849.7H2940.5M2836,909.1H2940.5" stroke="rgba(38,38,38,0.25)" stroke-width="4" stroke-dasharray="4 4" fill="none"/>
<path d="M2831.5,374.5H2942.5 M2831.5,671.5H2942.5" stroke="rgba(38,38,38,0.78)" stroke-width="2" fill="none"/>
<path d="M2887,968.5v-10 M2887,77.5v10M2831.5,374.5h10 M2942.5,374.5h-10M2831.5,671.5h10 M2942.5,671.5h-10" stroke="#262626" stroke-width="4" fill="none"/>
<rect x="2831.5" y="77.5" width="111" height="891" fill="none" stroke="#262626" stroke-width="4.4"/>
<text transform="translate(2837.1,1017.7) scale(1,1.040)" font-size="33.60" fill="#262626">10 oct.</text>
<text transform="translate(2837.1,1063.9) scale(1,1.040)" font-size="33.60" fill="#262626">12 oct.</text>
<rect x="2962.3" y="77.5" width="111.1" height="891" fill="#b3f8fb"/>
<rect x="2995.9" y="349.2" width="44" height="411.4" fill="#ebebeb" stroke="#000" stroke-width="2.2" stroke-dasharray="8 8"/>
<rect x="3006.9" y="626.4" width="22" height="22" fill="#000"/>
<path d="M3001.9,718.7 L3017.9,691.7 L3033.9,718.7Z" fill="#0000ff"/>
<path d="M3001.9,492 L3033.9,492 L3017.9,519Z" fill="#0000ff"/>
<path d="M2966.8,136.9H3071.4M2966.8,196.3H3071.4M2966.8,255.7H3071.4M2966.8,315.1H3071.4M2966.8,433.9H3071.4M2966.8,493.3H3071.4M2966.8,552.7H3071.4M2966.8,612.1H3071.4M2966.8,730.9H3071.4M2966.8,790.3H3071.4M2966.8,849.7H3071.4M2966.8,909.1H3071.4" stroke="rgba(38,38,38,0.25)" stroke-width="4" stroke-dasharray="4 4" fill="none"/>
<path d="M2962.3,374.5H3073.4 M2962.3,671.5H3073.4" stroke="rgba(38,38,38,0.78)" stroke-width="2" fill="none"/>
<path d="M3017.9,968.5v-10 M3017.9,77.5v10M2962.3,374.5h10 M3073.4,374.5h-10M2962.3,671.5h10 M3073.4,671.5h-10" stroke="#262626" stroke-width="4" fill="none"/>
<rect x="2962.3" y="77.5" width="111.1" height="891" fill="none" stroke="#262626" stroke-width="4.4"/>
<text transform="translate(2967.9,1017.7) scale(1,1.040)" font-size="33.60" fill="#262626">13 oct.</text>
<text transform="translate(2967.9,1063.9) scale(1,1.040)" font-size="33.60" fill="#262626">16 oct.</text>
<rect x="3127.4" y="240.6" width="44" height="518.4" fill="#ebebeb" stroke="#000" stroke-width="2.2" stroke-dasharray="8 8"/>
<rect x="3138.4" y="626.3" width="22" height="22" fill="#000"/>
<path d="M3133.4,708 L3149.4,681 L3165.4,708Z" fill="#0000ff"/>
<path d="M3133.4,393.5 L3165.4,393.5 L3149.4,420.5Z" fill="#0000ff"/>
<path d="M3098.8,136.9H3202.6M3098.8,196.3H3202.6M3098.8,255.7H3202.6M3098.8,315.1H3202.6M3098.8,433.9H3202.6M3098.8,493.3H3202.6M3098.8,552.7H3202.6M3098.8,612.1H3202.6M3098.8,730.9H3202.6M3098.8,790.3H3202.6M3098.8,849.7H3202.6M3098.8,909.1H3202.6" stroke="rgba(38,38,38,0.25)" stroke-width="4" stroke-dasharray="4 4" fill="none"/>
<path d="M3094.3,374.5H3204.6 M3094.3,671.5H3204.6" stroke="rgba(38,38,38,0.78)" stroke-width="2" fill="none"/>
<path d="M3149.4,968.5v-10 M3149.4,77.5v10M3094.3,374.5h10 M3204.6,374.5h-10M3094.3,671.5h10 M3204.6,671.5h-10" stroke="#262626" stroke-width="4" fill="none"/>
<rect x="3094.3" y="77.5" width="110.3" height="891" fill="none" stroke="#262626" stroke-width="4.4"/>
<text transform="translate(3099.5,1017.7) scale(1,1.040)" font-size="33.60" fill="#262626">17 oct.</text>
<text transform="translate(3099.5,1063.9) scale(1,1.040)" font-size="33.60" fill="#262626">20 oct.</text>
<rect x="3225.5" y="77.5" width="109.8" height="891" fill="#b3f8fb"/>
<rect x="3258.4" y="205.3" width="44" height="523.6" fill="#ebebeb" stroke="#000" stroke-width="2.2" stroke-dasharray="8 8"/>
<rect x="3269.4" y="602.4" width="22" height="22" fill="#000"/>
<path d="M3264.4,687.5 L3280.4,660.5 L3296.4,687.5Z" fill="#0000ff"/>
<path d="M3264.4,350.5 L3296.4,350.5 L3280.4,377.5Z" fill="#0000ff"/>
<path d="M3230,136.9H3333.3M3230,196.3H3333.3M3230,255.7H3333.3M3230,315.1H3333.3M3230,433.9H3333.3M3230,493.3H3333.3M3230,552.7H3333.3M3230,612.1H3333.3M3230,730.9H3333.3M3230,790.3H3333.3M3230,849.7H3333.3M3230,909.1H3333.3" stroke="rgba(38,38,38,0.25)" stroke-width="4" stroke-dasharray="4 4" fill="none"/>
<path d="M3225.5,374.5H3335.3 M3225.5,671.5H3335.3" stroke="rgba(38,38,38,0.78)" stroke-width="2" fill="none"/>
<path d="M3280.4,968.5v-10 M3280.4,77.5v10M3225.5,374.5h10 M3335.3,374.5h-10M3225.5,671.5h10 M3335.3,671.5h-10" stroke="#262626" stroke-width="4" fill="none"/>
<rect x="3225.5" y="77.5" width="109.8" height="891" fill="none" stroke="#262626" stroke-width="4.4"/>
<text transform="translate(3230.5,1017.7) scale(1,1.040)" font-size="33.60" fill="#262626">21 oct.</text>
<text transform="translate(3230.5,1063.9) scale(1,1.040)" font-size="33.60" fill="#262626">27 oct.</text>
<rect x="3389.2" y="178.2" width="44" height="593.3" fill="#ebebeb" stroke="#000" stroke-width="2.2" stroke-dasharray="8 8"/>
<rect x="3400.2" y="608.1" width="22" height="22" fill="#000"/>
<path d="M3395.2,690.1 L3411.2,663.1 L3427.2,690.1Z" fill="#0000ff"/>
<path d="M3395.2,295 L3427.2,295 L3411.2,322Z" fill="#0000ff"/>
<path d="M3360,136.9H3465M3360,196.3H3465M3360,255.7H3465M3360,315.1H3465M3360,433.9H3465M3360,493.3H3465M3360,552.7H3465M3360,612.1H3465M3360,730.9H3465M3360,790.3H3465M3360,849.7H3465M3360,909.1H3465" stroke="rgba(38,38,38,0.25)" stroke-width="4" stroke-dasharray="4 4" fill="none"/>
<path d="M3355.5,374.5H3467 M3355.5,671.5H3467" stroke="rgba(38,38,38,0.78)" stroke-width="2" fill="none"/>
<path d="M3411.2,968.5v-10 M3411.2,77.5v10M3355.5,374.5h10 M3467,374.5h-10M3355.5,671.5h10 M3467,671.5h-10" stroke="#262626" stroke-width="4" fill="none"/>
<rect x="3355.5" y="77.5" width="111.5" height="891" fill="none" stroke="#262626" stroke-width="4.4"/>
<text transform="translate(3356.6,1017.7) scale(1,1.040)" font-size="33.60" fill="#262626">28 oct.</text>
<text transform="translate(3356.6,1063.9) scale(1,1.040)" font-size="33.60" fill="#262626">03 nov.</text>
</svg></body></html>
